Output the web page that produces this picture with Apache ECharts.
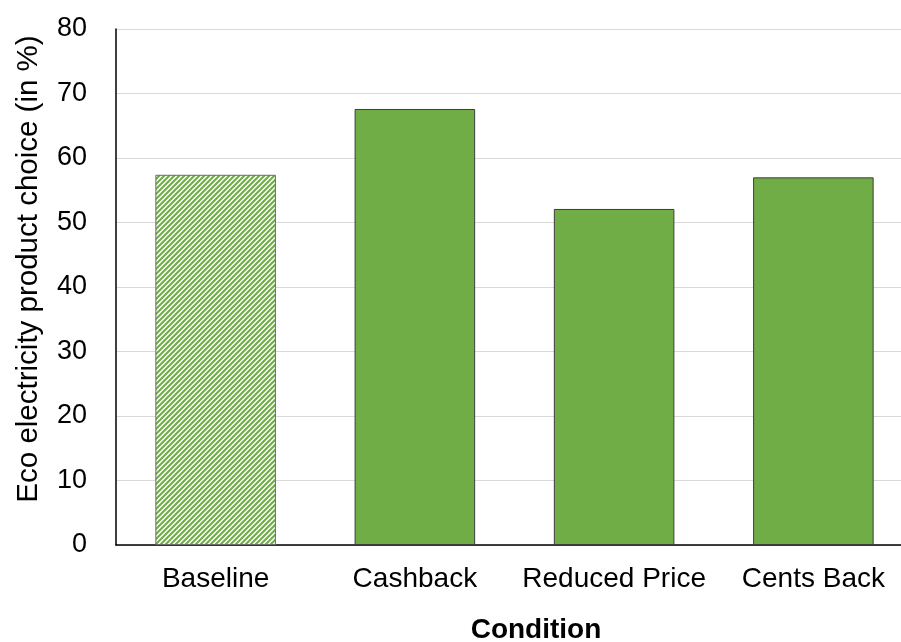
<!DOCTYPE html>
<html>
<head>
<meta charset="utf-8">
<script src="https://cdn.jsdelivr.net/npm/echarts@6/dist/echarts.min.js"></script>
<style>
  html, body { margin: 0; padding: 0; background: #fff; }
  #chart { width: 901px; height: 642px; }
</style>
</head>
<body>
<div id="chart"></div>
<script>
// Share of participants choosing the eco electricity product, by condition
const conditions = ['Baseline', 'Cashback', 'Reduced Price', 'Cents Back'];
const ecoChoice = [57.4, 67.6, 52.1, 57.0];
const yTicks = [0, 10, 20, 30, 40, 50, 60, 70, 80];

const GREEN = '#70AD47';
const FONT = 'Liberation Sans, Arial, Helvetica, sans-serif';

// Diagonal stripe fill (rising to the right) for the baseline bar
function stripeCanvas() {
  const size = 10;
  const c = document.createElement('canvas');
  c.width = size; c.height = size;
  const ctx = c.getContext('2d');
  ctx.fillStyle = '#ffffff';
  ctx.fillRect(0, 0, size, size);
  ctx.strokeStyle = GREEN;
  ctx.lineWidth = 2.1;
  for (let s = -5; s <= 2 * size + 5; s += 5) {
    ctx.beginPath();
    ctx.moveTo(s + 3, -3);
    ctx.lineTo(s - size - 3, size + 3);
    ctx.stroke();
  }
  return c;
}

const chart = echarts.init(document.getElementById('chart'), null, { renderer: 'canvas' });

const barData = ecoChoice.map((v, i) => {
  if (i === 0) {
    return {
      value: v,
      itemStyle: {
        color: { image: stripeCanvas(), repeat: 'repeat' },
        borderColor: '#6b6b6b',
        borderWidth: 1
      }
    };
  }
  return { value: v };
});

chart.setOption({
  animation: false,
  grid: { left: 116, top: 29, width: 797, height: 516, containLabel: false, outerBoundsMode: 'none' },
  xAxis: {
    type: 'category',
    data: conditions,
    name: 'Condition',
    nameLocation: 'middle',
    nameGap: 71,
    nameTextStyle: { fontFamily: FONT, fontSize: 28, fontWeight: 'bold', color: '#000', padding: [0, 0, 0, 43] },
    axisLine: { lineStyle: { color: '#000', width: 1.5 } },
    axisTick: { show: false },
    axisLabel: { fontFamily: FONT, fontSize: 28, color: '#000', margin: 20, interval: 0 }
  },
  yAxis: {
    type: 'value',
    min: 0,
    max: 80,
    interval: 10,
    name: 'Eco electricity product choice (in %)',
    nameLocation: 'middle',
    nameGap: 72,
    nameTextStyle: { fontFamily: FONT, fontSize: 29.5, color: '#000', padding: [0, 0, 0, 36] },
    axisLine: { show: true, lineStyle: { color: '#000', width: 1.5 } },
    axisTick: { show: false },
    axisLabel: {
      fontFamily: FONT, fontSize: 27, color: '#000', margin: 29,
      formatter: v => (yTicks.includes(v) ? String(v) : '')
    },
    splitLine: { lineStyle: { color: '#d9d9d9', width: 1 } }
  },
  series: [{
    type: 'bar',
    data: barData,
    barWidth: '60.5%',
    itemStyle: { color: GREEN, borderColor: '#3d3d3d', borderWidth: 1 }
  }]
});
</script>
</body>
</html>
